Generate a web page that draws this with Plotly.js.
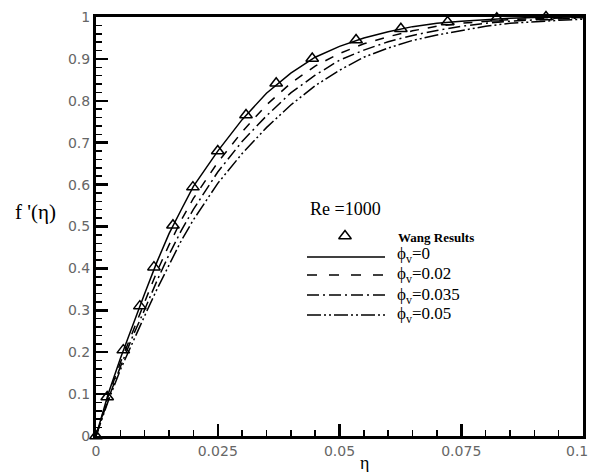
<!DOCTYPE html>
<html>
<head>
<meta charset="utf-8">
<script src="https://cdn.plot.ly/plotly-3.0.1.min.js"></script>
<style>html,body{margin:0;padding:0;background:#fff;}#chart{width:592px;height:472px;}</style>
</head>
<body>
<div id="chart"></div>
<script>
// ---- data ----
var wangEta = [0, 0.0023, 0.0056, 0.009, 0.0119, 0.0158, 0.0199, 0.025, 0.0308, 0.037, 0.0444, 0.0534, 0.0626, 0.0722, 0.0823, 0.0924];
var wangF   = [0, 0.093, 0.205, 0.31, 0.403, 0.503, 0.594, 0.68, 0.766, 0.842, 0.901, 0.945, 0.972, 0.988, 0.997, 1.0];

var eta = [0, 0.0025, 0.005, 0.0075, 0.01, 0.0125, 0.015, 0.0175, 0.02, 0.025, 0.03, 0.035, 0.04, 0.045, 0.05, 0.055, 0.06, 0.065, 0.07, 0.075, 0.08, 0.085, 0.09, 0.095, 0.1];
var phi0    = [0, 0.100, 0.185, 0.265, 0.340, 0.415, 0.483, 0.540, 0.596, 0.680, 0.755, 0.818, 0.866, 0.904, 0.930, 0.950, 0.965, 0.977, 0.985, 0.990, 0.994, 0.997, 0.999, 1.000, 1.000];
var phi002  = [0, 0.094, 0.175, 0.250, 0.320, 0.392, 0.456, 0.515, 0.567, 0.653, 0.726, 0.790, 0.842, 0.883, 0.913, 0.936, 0.953, 0.967, 0.978, 0.985, 0.990, 0.994, 0.996, 0.998, 0.999];
var phi0035 = [0, 0.088, 0.165, 0.237, 0.302, 0.370, 0.433, 0.490, 0.541, 0.630, 0.703, 0.764, 0.819, 0.861, 0.897, 0.921, 0.941, 0.956, 0.968, 0.978, 0.985, 0.990, 0.993, 0.996, 0.998];
var phi005  = [0, 0.083, 0.158, 0.224, 0.287, 0.350, 0.410, 0.466, 0.516, 0.603, 0.674, 0.736, 0.790, 0.836, 0.873, 0.904, 0.926, 0.944, 0.957, 0.968, 0.978, 0.985, 0.989, 0.992, 0.995];

var xTickVals = [0, 0.025, 0.05, 0.075, 0.1];
var xTickText = ['0', '0.025', '0.05', '0.075', ''];
var xLastTick = '0.1';
var yTickVals = [0, 0.1, 0.2, 0.3, 0.4, 0.5, 0.6, 0.7, 0.8, 0.9, 1];
var yTickText = ['0', '0.1', '0.2', '0.3', '0.4', '0.5', '0.6', '0.7', '0.8', '0.9', '1'];

var seriesNames = ['ϕ<sub>v</sub>=0', 'ϕ<sub>v</sub>=0.02', 'ϕ<sub>v</sub>=0.035', 'ϕ<sub>v</sub>=0.05'];
var seriesData = [phi0, phi002, phi0035, phi005];
var seriesDash = ['solid', '9px,9px', '12px,4px,2px,4px', '14px,3px,2px,3px,2px,3px'];
var legendDash = ['solid', '10px,12px', '12px,4px,2px,4px', '14px,3px,2px,3px,2px,3px'];

// ---- layout helpers (pixel -> paper) ----
var L = 96, R = 583, T = 17, B = 436;
function px(x){ return (x - L) / (R - L); }
function py(y){ return (B - y) / (B - T); }

var traces = [];
for (var i = 0; i < seriesData.length; i++) {
  traces.push({
    x: eta, y: seriesData[i], type: 'scatter', mode: 'lines',
    line: {color: '#000', width: 1.5, dash: seriesDash[i]},
    showlegend: false, hoverinfo: 'skip'
  });
}
traces.push({
  x: wangEta, y: wangF, type: 'scatter', mode: 'markers',
  marker: {symbol: 'triangle-up-open', size: 11, color: '#000', line: {width: 1.5, color: '#000'}},
  cliponaxis: false, showlegend: false, hoverinfo: 'skip'
});
// legend marker sample
traces.push({
  x: [px(345)], y: [py(236)], xaxis: 'x2', yaxis: 'y2', type: 'scatter', mode: 'markers',
  marker: {symbol: 'triangle-up-open', size: 11, color: '#000', line: {width: 1.5, color: '#000'}},
  showlegend: false, hoverinfo: 'skip'
});

var serif = 'Liberation Serif, Times New Roman, serif';
var tickFont = {family: 'DejaVu Sans, sans-serif', size: 14, color: '#666'};

var shapes = [];
var annotations = [];
var legendY = [257, 275, 295, 315];
var textY = [255, 275, 296, 315];
for (var j = 0; j < legendY.length; j++) {
  shapes.push({type: 'line', xref: 'paper', yref: 'paper',
    x0: px(307), x1: px(385), y0: py(legendY[j]), y1: py(legendY[j]),
    line: {color: '#000', width: 1.5, dash: legendDash[j]}});
  annotations.push({xref: 'paper', yref: 'paper', x: px(395), y: py(textY[j]),
    xanchor: 'left', yanchor: 'middle', showarrow: false, text: seriesNames[j],
    font: {family: serif, size: 17, color: '#000'}});
}
annotations.push({xref: 'paper', yref: 'paper', x: px(308), y: py(209), xanchor: 'left', yanchor: 'middle',
  showarrow: false, text: 'Re =1000', font: {family: serif, size: 18, color: '#000'}});
annotations.push({xref: 'paper', yref: 'paper', x: px(396), y: py(237), xanchor: 'left', yanchor: 'middle',
  showarrow: false, text: 'Wang Results', font: {family: serif, size: 13, color: '#000', weight: 'bold'}});
annotations.push({xref: 'paper', yref: 'paper', x: px(35), y: py(212), xanchor: 'center', yanchor: 'middle',
  showarrow: false, text: "f '(η)", font: {family: serif, size: 21, color: '#000'}});
annotations.push({xref: 'paper', yref: 'paper', x: px(364), y: py(463), xanchor: 'center', yanchor: 'middle',
  showarrow: false, text: 'η', font: {family: serif, size: 18, color: '#000'}});
annotations.push({xref: 'paper', yref: 'paper', x: px(589), y: py(451), xanchor: 'right', yanchor: 'middle',
  showarrow: false, text: xLastTick, font: tickFont, borderpad: 0});

var layout = {
  width: 592, height: 472,
  margin: {l: L, r: 592 - R, t: T, b: 472 - B},
  paper_bgcolor: '#fff', plot_bgcolor: '#fff',
  showlegend: false,
  xaxis: {
    range: [0, 0.1], tickmode: 'array', tickvals: xTickVals, ticktext: xTickText,
    ticks: 'inside', ticklen: 12, tickwidth: 2.5, tickcolor: '#000',
    minor: {ticks: 'inside', tick0: 0, dtick: 0.005, ticklen: 6, tickwidth: 1.5, tickcolor: '#000'},
    showline: true, linewidth: 3, linecolor: '#000', mirror: true,
    showgrid: false, zeroline: false, tickfont: tickFont, fixedrange: true
  },
  yaxis: {
    range: [0, 1], tickmode: 'array', tickvals: yTickVals, ticktext: yTickText,
    ticks: 'inside', ticklen: 12, tickwidth: 2.5, tickcolor: '#000',
    minor: {ticks: 'inside', tick0: 0, dtick: 0.02, ticklen: 6, tickwidth: 1.5, tickcolor: '#000'},
    showline: true, linewidth: 3, linecolor: '#000', mirror: true,
    showgrid: false, zeroline: false, tickfont: tickFont, fixedrange: true
  },
  xaxis2: {domain: [0, 1], range: [0, 1], visible: false, overlaying: 'x', anchor: 'y2'},
  yaxis2: {domain: [0, 1], range: [0, 1], visible: false, overlaying: 'y', anchor: 'x2'},
  shapes: shapes,
  annotations: annotations
};

Plotly.newPlot('chart', traces, layout, {displayModeBar: false, staticPlot: true});
</script>
</body>
</html>
